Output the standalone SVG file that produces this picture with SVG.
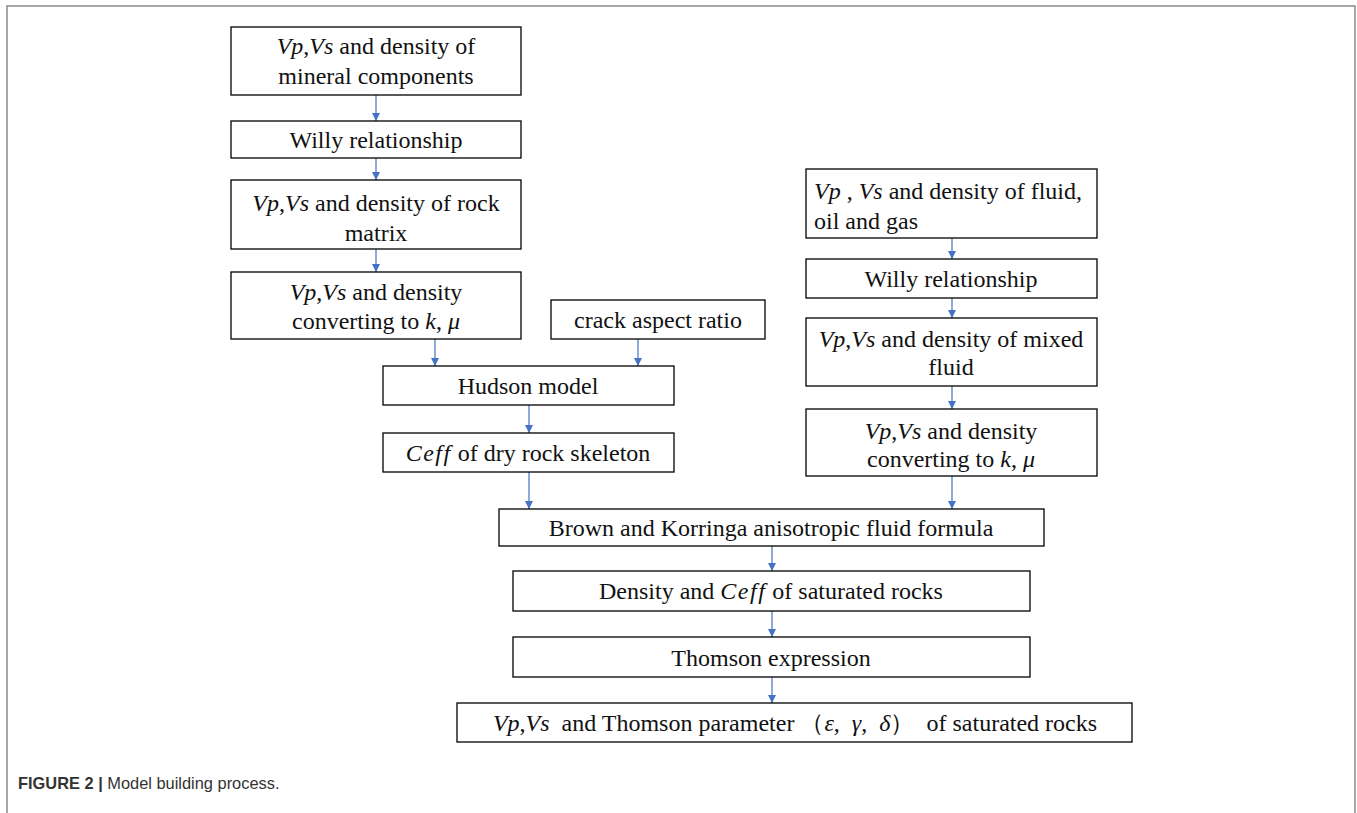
<svg xmlns="http://www.w3.org/2000/svg" width="1357" height="813" viewBox="0 0 1357 813">
<style>
.box{fill:#fff;stroke:#000;stroke-width:1.3}
.t{font-family:"Liberation Serif","Times New Roman",serif;font-size:24px;fill:#111;text-anchor:middle;white-space:pre}
.l{text-anchor:start}
.m{font-style:italic}
.ce{font-style:italic;letter-spacing:1.5px}
.c{stroke:#4472C4;stroke-width:1.2;fill:none;marker-end:url(#ah)}
.frame{fill:none;stroke:#8a8a8a;stroke-width:1.5}
.cap{font-family:"Liberation Sans",Arial,sans-serif;font-size:16.4px;fill:#333}
</style>
<defs>
<marker id="ah" viewBox="0 0 10 10" refX="10" refY="5" markerWidth="8" markerHeight="8" markerUnits="userSpaceOnUse" orient="auto">
<path d="M0,0 L10,5 L0,10 z" fill="#4472C4"/>
</marker>
</defs>
<rect width="1357" height="813" fill="#fff"/>
<path class="frame" d="M7,813 V6 H1355 V813"/>

<g id="connectors">
<line class="c" x1="376" y1="95" x2="376" y2="121"/>
<line class="c" x1="376" y1="158" x2="376" y2="180"/>
<line class="c" x1="376" y1="249" x2="376" y2="272"/>
<line class="c" x1="435" y1="339" x2="435" y2="366"/>
<line class="c" x1="638" y1="339" x2="638" y2="366"/>
<line class="c" x1="529" y1="405" x2="529" y2="433"/>
<line class="c" x1="529" y1="472" x2="529" y2="509"/>
<line class="c" x1="952" y1="238" x2="952" y2="259"/>
<line class="c" x1="952" y1="298" x2="952" y2="318"/>
<line class="c" x1="952" y1="386" x2="952" y2="409"/>
<line class="c" x1="952" y1="476" x2="952" y2="509"/>
<line class="c" x1="772" y1="546" x2="772" y2="571"/>
<line class="c" x1="772" y1="611" x2="772" y2="637"/>
<line class="c" x1="772" y1="677" x2="772" y2="703"/>
</g>

<g id="n1"><rect class="box" x="231" y="27" width="290" height="68"/>
<text class="t" x="376" y="54"><tspan class="m">Vp</tspan>,<tspan class="m">Vs</tspan> and density of</text>
<text class="t" x="376" y="84">mineral components</text></g>

<g id="n2"><rect class="box" x="231" y="121" width="290" height="37"/>
<text class="t" x="376" y="148">Willy relationship</text></g>

<g id="n3"><rect class="box" x="231" y="180" width="290" height="69"/>
<text class="t" x="376" y="211"><tspan class="m">Vp</tspan>,<tspan class="m">Vs</tspan> and density of rock</text>
<text class="t" x="376" y="241">matrix</text></g>

<g id="n4"><rect class="box" x="231" y="272" width="290" height="67"/>
<text class="t" x="376" y="300"><tspan class="m">Vp</tspan>,<tspan class="m">Vs</tspan> and density</text>
<text class="t" x="376" y="329">converting to <tspan class="m">k</tspan>, <tspan class="m">μ</tspan></text></g>

<g id="n5"><rect class="box" x="551" y="300" width="214" height="39"/>
<text class="t" x="658" y="328">crack aspect ratio</text></g>

<g id="n6"><rect class="box" x="383" y="366" width="291" height="39"/>
<text class="t" x="528" y="394">Hudson model</text></g>

<g id="n7"><rect class="box" x="383" y="433" width="291" height="39"/>
<text class="t" x="528" y="461"><tspan class="ce">Ceff</tspan> of dry rock skeleton</text></g>

<g id="n8"><rect class="box" x="806" y="169" width="291" height="69"/>
<text class="t l" x="814" y="199"><tspan class="m">Vp</tspan> , <tspan class="m">Vs</tspan> and density of fluid,</text>
<text class="t l" x="814" y="229">oil and gas</text></g>

<g id="n9"><rect class="box" x="806" y="259" width="291" height="39"/>
<text class="t" x="951" y="287">Willy relationship</text></g>

<g id="n10"><rect class="box" x="806" y="318" width="291" height="68"/>
<text class="t" x="951" y="347"><tspan class="m">Vp</tspan>,<tspan class="m">Vs</tspan> and density of mixed</text>
<text class="t" x="951" y="375">fluid</text></g>

<g id="n11"><rect class="box" x="806" y="409" width="291" height="67"/>
<text class="t" x="951" y="439"><tspan class="m">Vp</tspan>,<tspan class="m">Vs</tspan> and density</text>
<text class="t" x="951" y="467">converting to <tspan class="m">k</tspan>, <tspan class="m">μ</tspan></text></g>

<g id="n12"><rect class="box" x="499" y="509" width="545" height="37"/>
<text class="t" x="771" y="536">Brown and Korringa anisotropic fluid formula</text></g>

<g id="n13"><rect class="box" x="513" y="571" width="517" height="40"/>
<text class="t" x="771" y="599">Density and <tspan class="ce">Ceff</tspan> of saturated rocks</text></g>

<g id="n14"><rect class="box" x="513" y="637" width="517" height="40"/>
<text class="t" x="771" y="666">Thomson expression</text></g>

<g id="n15"><rect class="box" x="457" y="703" width="675" height="39"/>
<text class="t" x="795" y="731"><tspan class="m">Vp</tspan>,<tspan class="m">Vs</tspan>  and Thomson parameter （<tspan class="m">ε</tspan>,  <tspan class="m">γ</tspan>,  <tspan class="m">δ</tspan>）  of saturated rocks</text></g>

<text class="cap" x="18" y="789"><tspan font-weight="bold">FIGURE 2 |</tspan> Model building process.</text>
</svg>
